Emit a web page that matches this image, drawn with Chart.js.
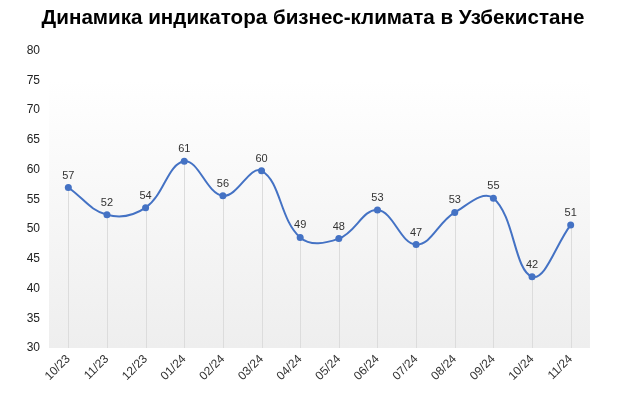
<!DOCTYPE html>
<html>
<head>
<meta charset="utf-8">
<script src="https://cdn.jsdelivr.net/npm/chart.js@4/dist/chart.umd.min.js"></script>
<style>
    html, body { margin: 0; padding: 0; background: #fff; }
    #wrap { width: 626px; height: 394px; }
</style>
</head>
<body>
<div id="wrap"><canvas id="bciChart" width="626" height="394"></canvas></div>
<script>
// Chart data
var months = ['10/23', '11/23', '12/23', '01/24', '02/24', '03/24', '04/24',
              '05/24', '06/24', '07/24', '08/24', '09/24', '10/24', '11/24'];
var indexValues = [57.0, 52.4, 53.6, 61.4, 55.6, 59.8, 48.6,
                   48.4, 53.2, 47.4, 52.8, 55.2, 42.0, 50.7];
var labelValues = [57, 52, 54, 61, 56, 60, 49, 48, 53, 47, 53, 55, 42, 51];
var yTicks = [30, 35, 40, 45, 50, 55, 60, 65, 70, 75, 80];

var lineColor = '#4472c4';

// Gradient background behind the plot
var plotBackground = {
    id: 'plotBackground',
    beforeDraw: function(chart) {
        var ctx = chart.ctx;
        var area = chart.chartArea;
        var grad = ctx.createLinearGradient(0, area.top, 0, area.bottom);
        grad.addColorStop(0, '#ffffff');
        grad.addColorStop(0.1, '#ffffff');
        grad.addColorStop(1, '#eeeeee');
        ctx.save();
        ctx.fillStyle = grad;
        ctx.fillRect(area.left, area.top, area.right - area.left, area.bottom - area.top);
        ctx.restore();
    }
};

// Vertical drop lines from each point to the axis
var dropLines = {
    id: 'dropLines',
    beforeDatasetsDraw: function(chart) {
        var ctx = chart.ctx;
        var meta = chart.getDatasetMeta(0);
        var bottom = chart.chartArea.bottom;
        ctx.save();
        ctx.strokeStyle = '#dcdcdc';
        ctx.lineWidth = 1;
        meta.data.forEach(function(pt) {
            var x = Math.round(pt.x) + 0.5;
            ctx.beginPath();
            ctx.moveTo(x, pt.y);
            ctx.lineTo(x, bottom);
            ctx.stroke();
        });
        ctx.restore();
    }
};

// Value labels above the points
var valueLabels = {
    id: 'valueLabels',
    afterDatasetsDraw: function(chart) {
        var ctx = chart.ctx;
        var meta = chart.getDatasetMeta(0);
        ctx.save();
        ctx.font = '11px "Liberation Sans", Arial, sans-serif';
        ctx.fillStyle = '#333333';
        ctx.textAlign = 'center';
        ctx.textBaseline = 'middle';
        meta.data.forEach(function(pt, i) {
            ctx.fillText(String(labelValues[i]), pt.x, pt.y - 12);
        });
        ctx.restore();
    }
};

new Chart(document.getElementById('bciChart'), {
    type: 'line',
    data: {
        labels: months,
        datasets: [{
            data: indexValues,
            borderColor: lineColor,
            backgroundColor: lineColor,
            borderWidth: 2,
            tension: 0.4,
            pointRadius: 3.5,
            pointBackgroundColor: lineColor,
            pointBorderWidth: 0,
            fill: false
        }]
    },
    options: {
        responsive: false,
        animation: false,
        layout: {
            padding: { left: 0, right: 0, top: 0, bottom: 0 }
        },
        plugins: {
            legend: { display: false },
            tooltip: { enabled: false },
            title: {
                display: true,
                text: 'Динамика индикатора бизнес-климата в Узбекистане',
                color: '#000000',
                font: { family: '"Liberation Sans", Arial, sans-serif', size: 20.6, weight: 'bold' },
                padding: { top: 6, bottom: 20 }
            }
        },
        scales: {
            x: {
                offset: true,
                grid: { display: false, drawTicks: false },
                border: { display: false },
                ticks: {
                    color: '#333333',
                    font: { family: '"Liberation Sans", Arial, sans-serif', size: 12 },
                    maxRotation: 45,
                    minRotation: 45,
                    autoSkip: false,
                    padding: 4
                },
                afterFit: function(scale) { scale.height = 46; }
            },
            y: {
                min: 30,
                max: 80,
                grid: { display: false, drawTicks: false },
                border: { display: false },
                afterBuildTicks: function(scale) {
                    scale.ticks = yTicks.map(function(v) { return { value: v }; });
                },
                ticks: {
                    color: '#222222',
                    font: { family: '"Liberation Sans", Arial, sans-serif', size: 12 },
                    padding: 9
                },
                afterFit: function(scale) { scale.width = 49; }
            },
            // empty right axis, only keeps a margin on the right
            yRight: {
                position: 'right',
                min: 30,
                max: 80,
                grid: { display: false, drawTicks: false },
                border: { display: false },
                ticks: { display: false },
                afterFit: function(scale) { scale.width = 36; }
            }
        }
    },
    plugins: [plotBackground, dropLines, valueLabels]
});
</script>
</body>
</html>
